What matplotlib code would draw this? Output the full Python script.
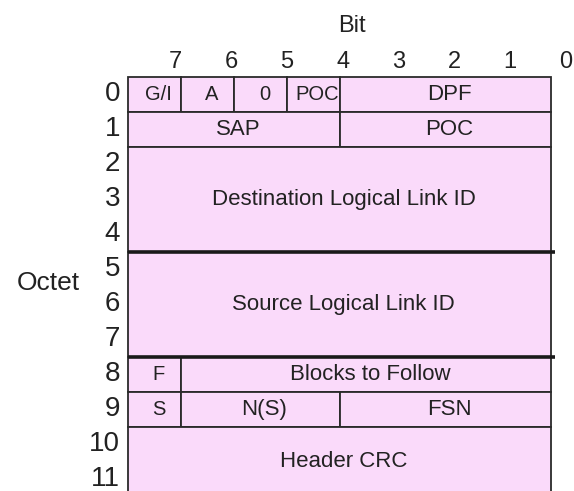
import matplotlib
matplotlib.use("Agg")
import matplotlib.pyplot as plt
from matplotlib.patches import Rectangle

plt.rcParams['font.family'] = ['Liberation Sans', 'DejaVu Sans']

# fields of the header: label, first/last octet, high/low bit
field_labels = ["G/I", "A", "0", "POC", "DPF",
                "SAP", "POC",
                "Destination Logical Link ID",
                "Source Logical Link ID",
                "F", "Blocks to Follow",
                "S", "N(S)", "FSN",
                "Header CRC"]
first_octet = [0, 0, 0, 0, 0, 1, 1, 2, 5, 8, 8, 9, 9, 9, 10]
last_octet = [0, 0, 0, 0, 0, 1, 1, 4, 7, 8, 8, 9, 9, 9, 11]
high_bit = [7, 6, 5, 4, 3, 7, 3, 7, 7, 7, 6, 7, 6, 3, 7]
low_bit = [7, 6, 5, 4, 0, 4, 0, 0, 0, 7, 0, 7, 4, 0, 0]

bit_labels = ["7", "6", "5", "4", "3", "2", "1", "0"]
octet_labels = [str(i) for i in range(12)]
group_bounds = [5, 8]  # heavier lines between the link id blocks

fill = "#fadafa"
edge = "#2a2a2a"

W, H = 574, 491
fig = plt.figure(figsize=(W / 100, H / 100), dpi=100)
ax = fig.add_axes([128 / W, 1 - 497 / H, 423 / W, 420 / H])
ax.set_xlim(0, 8)
ax.set_ylim(12, 0)
ax.axis("off")

for lab, o1, o2, hb, lb in zip(field_labels, first_octet, last_octet, high_bit, low_bit):
    x0 = 7 - hb
    x1 = 8 - lb
    ax.add_patch(Rectangle((x0, o1), x1 - x0, o2 + 1 - o1,
                           facecolor=fill, edgecolor=edge, lw=1.3, clip_on=False))
    fs = 16 if (o2 > o1 or x1 - x0 > 2) else 14.5
    ax.text((x0 + x1) / 2 + 0.08, (o1 + o2 + 1) / 2, lab,
            ha="center", va="center", fontsize=fs, color="#222222")

for yb in group_bounds:
    ax.plot([0, 8.07], [yb, yb], color="#1a1a1a", lw=2.6,
            solid_capstyle="butt", clip_on=False)

# bit numbers across the top
for i, b in enumerate(bit_labels):
    ax.text(0.89 + i * 1.056, -0.43, b, ha="center", va="center",
            fontsize=17, color="#222222")
ax.text(4.23, -1.45, "Bit", ha="center", va="center", fontsize=17, color="#222222")

# octet numbers down the side
for i, o in enumerate(octet_labels):
    ax.text(-0.15, i + 0.5, o, ha="right", va="center", fontsize=20, color="#222222")
ax.text(-1.51, 5.9, "Octet", ha="center", va="center", fontsize=19, color="#222222")

fig.savefig("out.png", dpi=100)
